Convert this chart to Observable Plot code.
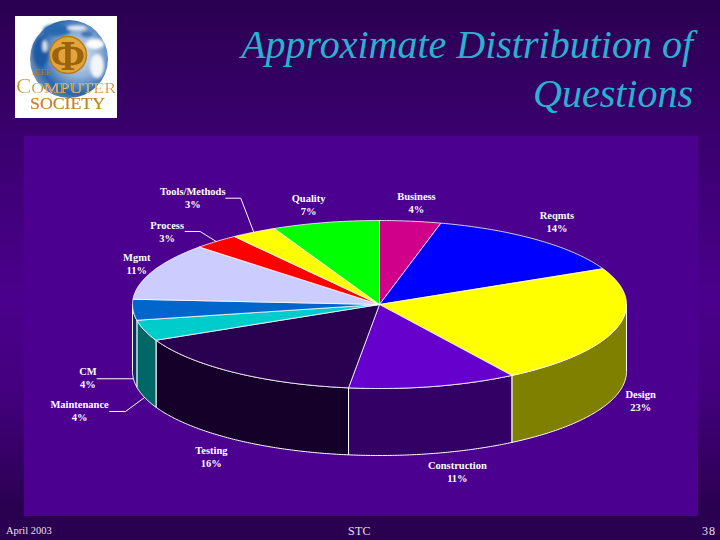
<!DOCTYPE html>
<html>
<head>
<meta charset="utf-8">
<script src="https://cdn.jsdelivr.net/npm/d3@7"></script>
<script src="https://cdn.jsdelivr.net/npm/@observablehq/plot@0.6"></script>
<style>
  html, body { margin: 0; padding: 0; }
  body { width: 720px; height: 540px; overflow: hidden; position: relative;
    background: linear-gradient(180deg, #2a0050 0%, #3a006e 25%, #4a008c 55%, #44007f 72%, #2a0050 94%, #2a0050 100%); }
  #panel { position: absolute; left: 24px; top: 136px; width: 674px; height: 380px; background: #4b008f; }
  #chart { position: absolute; left: 0; top: 0; }
  #title { position: absolute; right: 27px; top: 20px; text-align: right; color: #29b2cf;
    font: italic 40px/49px "Liberation Serif", serif; white-space: nowrap; }
  .foot { position: absolute; top: 524px; color: #e6e0f0; font: 10.5px/14px "Liberation Serif", serif; }
  #logo { position: absolute; left: 15px; top: 16px; }
</style>
</head>
<body>
<div id="panel"></div>
<svg id="logo" width="102" height="102" viewBox="0 0 102 102">
  <defs>
    <radialGradient id="globe" cx="0.62" cy="0.45" r="0.62">
      <stop offset="0" stop-color="#dfe8f3"/><stop offset="0.45" stop-color="#8fb0d6"/>
      <stop offset="0.8" stop-color="#2a66ad"/><stop offset="1" stop-color="#6f8db0"/>
    </radialGradient>
    <filter id="soft"><feGaussianBlur stdDeviation="1.4"/></filter>
    <filter id="soft2"><feGaussianBlur stdDeviation="0.3"/></filter>
  </defs>
  <rect width="102" height="102" fill="#fff"/>
  <circle cx="54" cy="43" r="39" fill="url(#globe)"/>
  <g filter="url(#soft)">
    <ellipse cx="26" cy="36" rx="8" ry="15" fill="#1d5aa5"/>
    <ellipse cx="42" cy="14" rx="14" ry="6" fill="#2a69b0"/>
    <ellipse cx="30" cy="30" rx="2.5" ry="6" fill="#dbe6f2"/>
    <ellipse cx="62" cy="12" rx="10" ry="2.5" fill="#e8eef6"/>
    <ellipse cx="80" cy="28" rx="9" ry="5" fill="#fff"/>
    <ellipse cx="82" cy="50" rx="7" ry="12" fill="#f3f5f9"/>
    <ellipse cx="72" cy="18" rx="6" ry="3" fill="#3c74b5"/>
  </g>
  <g filter="url(#soft2)">
    <circle cx="53" cy="39" r="18.5" fill="#e2a53a" stroke="#b5781c" stroke-width="1.5"/>
    <text x="53" y="54" text-anchor="middle" font-family="Liberation Serif" font-weight="bold" font-size="42" fill="#9c6410">Φ</text>
    <text x="27" y="59" text-anchor="middle" font-family="Liberation Serif" font-size="9" fill="#b87d25" textLength="20" lengthAdjust="spacingAndGlyphs">IEEE</text>
    <text x="1" y="77" font-family="Liberation Serif" font-size="20" fill="#cb8d2c" stroke="#fff" stroke-width="0.2" textLength="100" lengthAdjust="spacingAndGlyphs">C<tspan font-size="15.5">OMPUTER</tspan></text>
    <text x="15" y="93" font-family="Liberation Serif" font-size="16" fill="#c08428" stroke="#c08428" stroke-width="0.2" textLength="75" lengthAdjust="spacingAndGlyphs">SOCIETY</text>
  </g>
</svg>
<div id="chart"></div>
<div id="title">Approximate Distribution of<br>Questions</div>
<div class="foot" style="left:6px">April 2003</div>
<div class="foot" style="left:348px;letter-spacing:.3px;font-size:12px">STC</div>
<div class="foot" style="left:702px;letter-spacing:1px;font-size:12px">38</div>
<script>
// Chart data, clockwise from twelve o'clock
const categories = ["Business","Reqmts","Design","Construction","Testing","Maintenance","CM","Mgmt","Process","Tools/Methods","Quality"];
const shares     = [4,14,23,11,16,4,4,11,3,3,7];
const topColors  = ["#d0008a","#0000ff","#ffff00","#6600cc","#2a0050","#00cccc","#0066cc","#ccccff","#ff0000","#ffff00","#00ff00"];
const sideColors = ["#680045","#000080","#808000","#330066","#140028","#006666","#003366","#666680","#800000","#808000","#008000"];

// Layout of the projected pie (screen units) and of the labels, apart from the data
const pie = {cx: 379, cy: 304, rx: 247, ry: 84, depth: 67};
const labelNudge = {Business:[6,-19],Reqmts:[20,-18],Design:[24,72],Construction:[24,85],Testing:[-23,84],
  Maintenance:[-65,80],CM:[-45,68],Mgmt:[-16,-8],Process:[-49,-10],"Tools/Methods":[-61,-35],Quality:[-17,-18]};
const leaderFromLabel = {"Tools/Methods":[[33,1],[48,1]],Process:[[18,0],[33,0]],Maintenance:[[30,1],[46,1]],CM:[[9,1]]};
const leaderDrop = {Maintenance:67,CM:69};

const rad = p => p / 100 * 2 * Math.PI;
const rim = (t, drop = 0) => ({x: pie.cx + pie.rx * Math.sin(t), y: pie.cy - pie.ry * Math.cos(t) + drop});
const arc = (t0, t1, drop = 0) => {
  const n = Math.max(2, Math.ceil((t1 - t0) / 0.01));
  return d3.range(n + 1).map(i => rim(t0 + (t1 - t0) * i / n, drop));
};

let acc = 0;
const slices = categories.map((name, i) => {
  const start = acc; acc += shares[i];
  return {name, start: rad(start), end: rad(acc), mid: rad(start + shares[i] / 2), top: topColors[i], side: sideColors[i]};
});

// Top faces, as closed outlines through the centre
const topFaces = slices.flatMap(s =>
  [{x: pie.cx, y: pie.cy}, ...arc(s.start, s.end), {x: pie.cx, y: pie.cy}].map(p => ({...p, key: s.name, color: s.top})));

// Side walls: only the part of each slice on the front half of the ellipse
const sideFaces = slices.flatMap(s => {
  const a = Math.max(s.start, Math.PI / 2), b = Math.min(s.end, 3 * Math.PI / 2);
  if (b <= a) return [];
  const pts = [...arc(a, b), ...arc(a, b, pie.depth).reverse(), rim(a)];
  return pts.map(p => ({...p, key: s.name, color: s.side}));
});

const labels = slices.map((s, i) => {
  const p = rim(s.mid), n = labelNudge[s.name];
  return {x: p.x + n[0], y: p.y + n[1], text: `${s.name}\n${shares[i]}%`, name: s.name, mid: s.mid};
});

const leaders = labels.filter(l => leaderFromLabel[l.name]).flatMap(l => {
  const pts = leaderFromLabel[l.name].map(o => ({x: l.x + o[0], y: l.y + o[1]}));
  pts.push(rim(l.mid, leaderDrop[l.name] || 0));
  return pts.map(p => ({...p, key: l.name}));
});

const chart = Plot.plot({
  width: 720, height: 540,
  margin: 0,
  style: {background: "transparent"},
  x: {domain: [0, 720], range: [0, 720], axis: null},
  y: {domain: [0, 540], range: [0, 540], axis: null},
  color: {type: "identity"},
  marks: [
    Plot.line(sideFaces, {x: "x", y: "y", z: "key", fill: "color", stroke: "#fff", strokeWidth: 1, curve: "linear"}),
    Plot.line(topFaces, {x: "x", y: "y", z: "key", fill: "color", stroke: "#fff", strokeWidth: 0.8, curve: "linear", strokeLinejoin: "round"}),
    Plot.line(leaders, {x: "x", y: "y", z: "key", stroke: "#fff", strokeWidth: 1, curve: "linear"}),
    Plot.text(labels, {x: "x", y: "y", text: "text", fill: "#fff", fontFamily: "Liberation Serif", fontWeight: "bold", fontSize: 10.5, lineHeight: 1.24, textAnchor: "middle"})
  ]
});
document.getElementById("chart").append(chart);
</script>
</body>
</html>
